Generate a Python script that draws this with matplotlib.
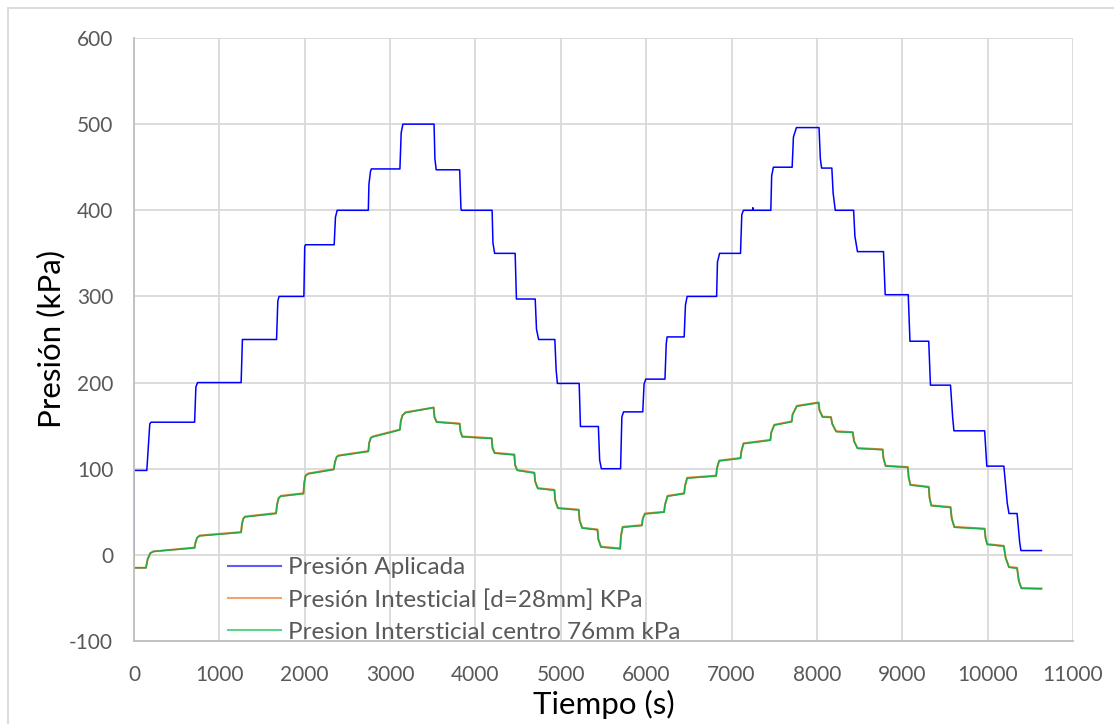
import matplotlib
matplotlib.use("Agg")
import matplotlib.pyplot as plt
from matplotlib.lines import Line2D
from matplotlib.patches import Rectangle

# ---- data: applied pressure (breakpoints of the loading steps) ----
t_aplicada = [0, 0, 150, 185, 200, 710, 725, 745, 1255, 1270, 1670, 1685, 1700,
              1990, 2000, 2010, 2345, 2360, 2380, 2745, 2752, 2770, 2780, 3115,
              3130, 3150, 3515, 3525, 3540, 3815, 3830, 3835, 4195, 4205, 4225,
              4465, 4480, 4700, 4715, 4740, 4930, 4945, 4960, 5215, 5230, 5440,
              5455, 5475, 5700, 5715, 5735, 5960, 5975, 5995, 6220, 6235, 6245,
              6445, 6460, 6480, 6825, 6835, 6860, 7105, 7120, 7140, 7245, 7250,
              7255, 7460, 7470, 7490, 7710, 7725, 7760, 8025, 8040, 8055, 8175,
              8190, 8215, 8430, 8445, 8475, 8780, 8800, 9070, 9090, 9310, 9330,
              9565, 9590, 9605, 9965, 9990, 10190, 10230, 10250, 10345, 10375,
              10390, 10630]
p_aplicada = [0, 98, 98, 152, 154, 154, 195, 200, 200, 250, 250, 295, 300,
              300, 358, 360, 360, 392, 400, 400, 430, 445, 448, 448,
              490, 500, 500, 460, 447, 447, 402, 400, 400, 362, 350,
              350, 297, 297, 262, 250, 250, 215, 199, 199, 149, 149,
              110, 100, 100, 160, 166, 166, 198, 204, 204, 245, 253,
              253, 290, 300, 300, 340, 350, 350, 395, 400, 400, 403,
              400, 400, 440, 450, 450, 485, 496, 496, 460, 449, 449,
              420, 400, 400, 370, 352, 352, 302, 302, 248, 248, 197,
              197, 160, 144, 144, 103, 103, 60, 48, 48, 15,
              5, 5]

# ---- data: pore pressure, transducer d=28mm ----
t_int28 = [0, 0, 140, 160, 190, 230, 710, 720, 740, 770, 1255, 1265, 1280, 1300,
           1665, 1675, 1695, 1720, 1985, 1995, 2010, 2040, 2340, 2355, 2375,
           2400, 2745, 2755, 2775, 2800, 3115, 3125, 3145, 3180, 3510, 3520,
           3545, 3815, 3825, 3845, 4190, 4200, 4225, 4455, 4465, 4490, 4690,
           4700, 4730, 4925, 4935, 4965, 5210, 5220, 5250, 5430, 5440, 5470,
           5695, 5705, 5725, 5950, 5960, 5985, 6210, 6220, 6250, 6445, 6455,
           6480, 6820, 6830, 6855, 7105, 7115, 7140, 7455, 7465, 7500, 7705,
           7715, 7765, 8020, 8030, 8065, 8165, 8180, 8225, 8420, 8435, 8475,
           8770, 8780, 8805, 9065, 9075, 9095, 9310, 9320, 9340, 9565, 9580,
           9610, 9965, 9975, 9995, 10190, 10210, 10250, 10345, 10365, 10395,
           10630]
p_int28 = [0, -15, -15, -5, 2, 4, 8.5, 14, 20, 22.5, 26.5, 36, 42, 44.5,
           48.5, 58, 66, 68.5, 71.5, 84, 92, 94.5, 99.5, 108, 114,
           115.5, 120.5, 130, 136, 137.5, 145.5, 155, 162, 165.5, 171, 160,
           154.5, 152.5, 143, 137.5, 135.5, 124, 118.5, 116.5, 104, 98.5, 95.5,
           85, 77.5, 75.5, 63, 54.5, 52.5, 40, 31.5, 29.5, 18, 9.5,
           7.5, 22, 32.5, 34.5, 42, 48, 50, 58, 68.5, 71.5, 80,
           89.5, 92, 101, 109.5, 112.5, 120, 129.5, 133.5, 142, 151, 155,
           163, 173, 177, 168, 160.5, 160, 152, 143.5, 142.5, 132, 124,
           122.5, 112, 103.5, 102, 90, 81.5, 79, 66, 57.5, 55.5, 42,
           32.5, 30.5, 20, 12.5, 10.5, -3, -14, -15, -30, -38.5,
           -39]

# ---- data: pore pressure, centre 76mm ----
t_centro = t_int28
p_centro = [0, -15, -15, -5, 2, 4, 8, 14, 20, 22, 26, 36, 42, 44,
            48, 58, 66, 68, 71, 84, 92, 94, 99, 108, 114,
            115, 120, 130, 136, 137, 145, 155, 162, 165, 171, 160,
            154, 152, 143, 137, 135, 124, 118, 116, 104, 98, 95,
            85, 77, 75, 63, 54, 52, 40, 31, 29, 18, 9,
            7, 22, 32, 34, 42, 47.5, 49.5, 58, 68, 71, 80,
            89, 91.5, 101, 109, 112, 120, 129, 133, 142, 150.5, 154.5,
            163, 172.5, 176.5, 168, 160, 159.5, 152, 143, 142, 132, 123.5,
            122, 112, 103, 101.5, 90, 81, 78.5, 66, 57, 55, 42,
            32, 30, 20, 12, 10, -3, -14.5, -15.5, -30, -39,
            -39.5]

labels = ["Presión Aplicada",
          "Presión Intesticial [d=28mm] KPa",
          "Presion Intersticial centro 76mm kPa"]
colors = ["#0000FF", "#ED7D31", "#1EAD48"]
legend_colors = ["#5B5BFF", "#F0A36C", "#5FD38A"]

x_ticks = list(range(0, 11001, 1000))
y_ticks = list(range(-100, 601, 100))

plt.rcParams["font.family"] = ["Lato", "DejaVu Sans"]
plt.rcParams["axes.unicode_minus"] = False

W, H = 1114, 724
fig = plt.figure(figsize=(W / 100, H / 100), dpi=100)
fig.patch.set_facecolor("white")

# chart border
fig.add_artist(Rectangle((8 / W, -0.01), 1.2, 1 - 8 / H + 0.01,
                         transform=fig.transFigure, fill=False,
                         edgecolor="#D9D9D9", linewidth=1.3))

ax = fig.add_axes([134 / W, 1 - 641 / H, (1073 - 134) / W, (641 - 38) / H])
ax.set_xlim(0, 11000)
ax.set_ylim(-100, 600)
ax.set_xticks(x_ticks)
ax.set_yticks(y_ticks)
ax.grid(True, color="#D9D9D9", linewidth=1.3)
ax.set_axisbelow(True)
for side in ("top", "right"):
    ax.spines[side].set_visible(False)
for side in ("left", "bottom"):
    ax.spines[side].set_color("#BFBFBF")
    ax.spines[side].set_linewidth(1.3)
ax.tick_params(length=0, labelsize=15, labelcolor="#595959")
ax.tick_params(axis="y", pad=15)
ax.tick_params(axis="x", pad=17)

ax.plot(t_aplicada, p_aplicada, color=colors[0], linewidth=1.1)
ax.plot(t_int28, p_int28, color=colors[1], linewidth=1.4)
ax.plot(t_centro, p_centro, color=colors[2], linewidth=1.1)

ax.set_xlabel("Tiempo (s)", fontsize=22.5, color="#000000", labelpad=4)
ax.set_ylabel("Presión (kPa)", fontsize=22.5, color="#000000", labelpad=3)

handles = [Line2D([], [], color=c, linewidth=1.5) for c in legend_colors]
leg = ax.legend(handles, labels, loc="lower left",
                bbox_to_anchor=(84 / 939, -0.019), frameon=False,
                fontsize=17.5, labelcolor="#595959", handlelength=2.2,
                handletextpad=0.3, labelspacing=0.45, borderaxespad=0)

fig.savefig("out.png", dpi=100, facecolor="white")
